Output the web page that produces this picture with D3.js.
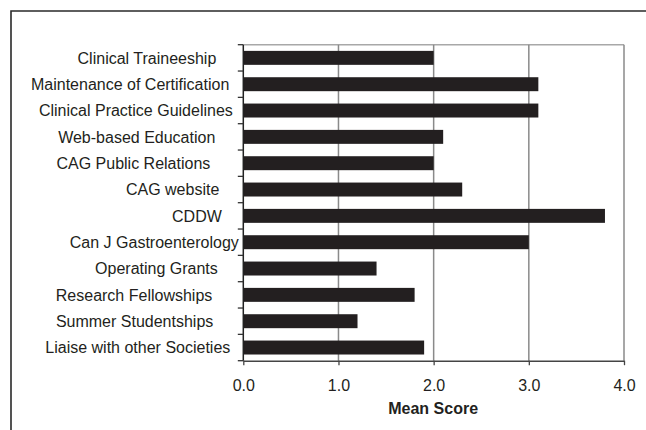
<!DOCTYPE html>
<html>
<head>
<meta charset="utf-8">
<script src="https://cdn.jsdelivr.net/npm/d3@7"></script>
<style>
  html, body { margin: 0; padding: 0; background: #fff; }
  svg { display: block; }
  text { font-family: "Liberation Sans", Arial, sans-serif; fill: #231f20; }
</style>
</head>
<body>
<svg id="chart" width="646" height="430"></svg>
<script>
// ---- data ----
const categories = [
  "Clinical Traineeship",
  "Maintenance of Certification",
  "Clinical Practice Guidelines",
  "Web-based Education",
  "CAG Public Relations",
  "CAG website",
  "CDDW",
  "Can J Gastroenterology",
  "Operating Grants",
  "Research Fellowships",
  "Summer Studentships",
  "Liaise with other Societies"
];
const meanScores = [2.0, 3.1, 3.1, 2.1, 2.0, 2.3, 3.8, 3.0, 1.4, 1.8, 1.2, 1.9];
const xTicks = [0, 1, 2, 3, 4];
const xTitle = "Mean Score";

// ---- layout ----
const svg = d3.select("#chart");
const mLeft = 243.3, mRight = 624, mTop = 44.7, mBottom = 360.7;
// right-edge gap of each category label from the axis (as in the original layout)
const labelGaps = [27, 14, 10.5, 28, 33, 24, 21.5, 4.5, 25.5, 31, 30, 13];

const x = d3.scaleLinear().domain([0, 4]).range([mLeft, mRight]);
const y = d3.scaleBand().domain(categories).range([mTop, mBottom]).paddingInner(0.47).paddingOuter(0.235);

// outer frame (top and left edges)
svg.append("path")
  .attr("d", "M11,430 V11 H646")
  .attr("fill", "none").attr("stroke", "#2a2a2a").attr("stroke-width", 1.6);

// plot top border
svg.append("line")
  .attr("x1", mLeft).attr("x2", mRight).attr("y1", mTop).attr("y2", mTop)
  .attr("stroke", "#a8a8a8").attr("stroke-width", 1.5);

// gridlines
svg.append("g").selectAll("line")
  .data(xTicks.filter(d => d > 0))
  .join("line")
  .attr("x1", d => x(d)).attr("x2", d => x(d))
  .attr("y1", mTop).attr("y2", mBottom)
  .attr("stroke", "#8a8a8a").attr("stroke-width", 1.5);

// bars
svg.append("g").selectAll("rect")
  .data(meanScores)
  .join("rect")
  .attr("x", x(0))
  .attr("y", (d, i) => y(categories[i]))
  .attr("width", d => x(d) - x(0))
  .attr("height", y.bandwidth())
  .attr("fill", "#231f20");

// x axis
const xAxis = d3.axisBottom(x)
  .tickValues(xTicks)
  .tickFormat(d3.format(".1f"))
  .tickSize(4.5)
  .tickPadding(14)
  .tickSizeOuter(0);
const gx = svg.append("g").attr("transform", `translate(0,${mBottom})`).call(xAxis);
gx.select(".domain").attr("stroke", "#444").attr("stroke-width", 1.5);
gx.selectAll(".tick line").attr("stroke", "#444").attr("stroke-width", 1.3);
gx.selectAll(".tick text")
  .style("font-size", "16px")
  .style("font-family", "'Liberation Sans', Arial, sans-serif")
  .attr("fill", "#231f20");

// y axis line and category boundary ticks
svg.append("line")
  .attr("x1", mLeft).attr("x2", mLeft).attr("y1", mTop).attr("y2", mBottom)
  .attr("stroke", "#222").attr("stroke-width", 1.5);
const step = (mBottom - mTop) / categories.length;
svg.append("g").selectAll("line")
  .data(d3.range(categories.length + 1))
  .join("line")
  .attr("x1", mLeft - 5.5).attr("x2", mLeft)
  .attr("y1", i => mTop + i * step).attr("y2", i => mTop + i * step)
  .attr("stroke", "#333").attr("stroke-width", 1.3);

// category labels
svg.append("g").selectAll("text")
  .data(categories)
  .join("text")
  .attr("x", (d, i) => mLeft - labelGaps[i])
  .attr("y", d => y(d) + y.bandwidth() / 2)
  .attr("dy", "0.36em")
  .attr("text-anchor", "end")
  .style("font-size", "16px")
  .text(d => d);

// x title
svg.append("text")
  .attr("x", (mLeft + mRight) / 2 - 0.5)
  .attr("y", 414)
  .attr("text-anchor", "middle")
  .style("font-size", "16px")
  .style("font-weight", "bold")
  .text(xTitle);
</script>
</body>
</html>
